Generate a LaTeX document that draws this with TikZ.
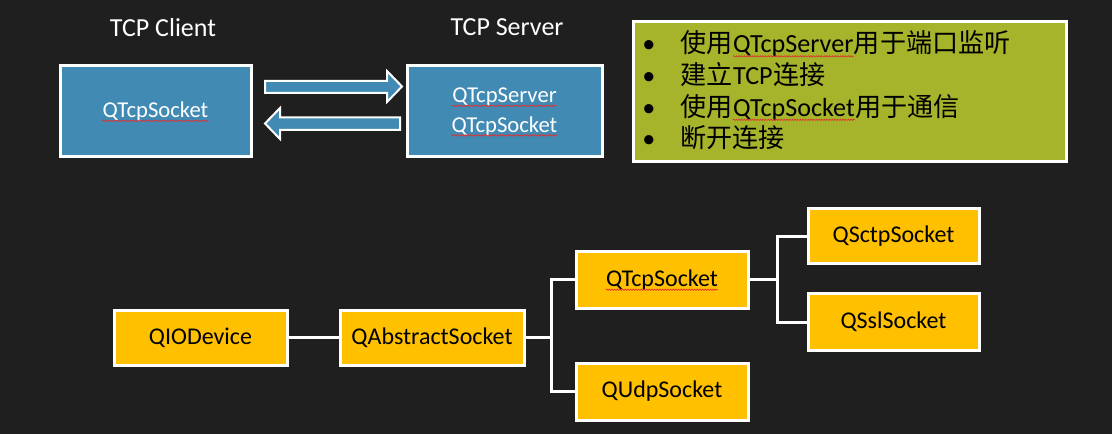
\documentclass[tikz,border=0pt]{standalone}
\usepackage{fontspec}
\setmainfont{Carlito}
\newfontfamily\cjk{Noto Sans CJK SC}
\usetikzlibrary{decorations.pathmorphing}
\definecolor{bgc}{HTML}{1F1F1F}
\definecolor{tblue}{HTML}{418AB3}
\definecolor{tgreen}{HTML}{A5B42A}
\definecolor{tyellow}{HTML}{FFC000}
\definecolor{sqred}{HTML}{E03030}
\tikzset{
  sz/.style 2 args={minimum width=#1*0.75pt, minimum height=#2*0.75pt},
  bluebox/.style={draw=white, line width=2.25pt, fill=tblue, inner sep=0pt},
  bluetxt/.style={inner sep=0pt, text=white, font=\fontsize{17}{22}\selectfont},
  titletxt/.style={inner sep=0pt, text=white, font=\fontsize{19.5}{23}\selectfont},
  greenbox/.style={draw=white, line width=2.25pt, fill=tgreen, inner sep=0pt},
  notetxt/.style={inner sep=0pt, text=black, font=\fontsize{19.6}{23}\selectfont, anchor=base west},
  ybox/.style={draw=white, line width=2.25pt, fill=tyellow, inner sep=0pt, text=black, font=\fontsize{18}{21}\selectfont},
  link/.style={draw=white, line width=2.25pt},
  blockarrow/.style={fill=tblue, draw=white, line width=1.5pt, line join=miter},
  squig/.style={draw=sqred, line width=0.5pt, decorate, decoration={snake, segment length=2pt, amplitude=0.5pt}}
}
\begin{document}
\begin{tikzpicture}[x=0.75pt,y=-0.75pt]
\fill[bgc] (0,0) rectangle (1112,434);
\useasboundingbox (0,0) rectangle (1112,434);

% titles
\node[titletxt] (ctitle) at (163,28) {TCP Client};
\node[titletxt] (stitle) at (507,27) {TCP Server};

% blue boxes
\node[bluebox, sz={191}{91}] (client) at (155.5,111.5) {};
\node[bluetxt] (clientlbl) at (client) {QTcpSocket};
\draw[squig] ([yshift=-2.5pt]clientlbl.base west) -- ([yshift=-2.5pt]clientlbl.base east);

\node[bluebox, sz={195}{91}] (server) at (504.5,111.5) {};
\node[bluetxt] (srvlbl1) at (504.5,97) {QTcpServer};
\node[bluetxt] (srvlbl2) at (504.5,126) {QTcpSocket};
\draw[squig] ([yshift=-2.5pt]srvlbl1.base west) -- ([yshift=-2.5pt]srvlbl1.base east);
\draw[squig] ([yshift=-2.5pt]srvlbl2.base west) -- ([yshift=-2.5pt]srvlbl2.base east);

% block arrows
\draw[blockarrow] (265,81) -- (387,81) -- (387,71) -- (402,86.5) -- (387,102) -- (387,93) -- (265,93) -- cycle;
\draw[blockarrow] (400,117.5) -- (280,117.5) -- (280,108) -- (265,123.5) -- (280,139) -- (280,130) -- (400,130) -- cycle;

% notes box
\node[greenbox, sz={433}{140}] (notes) at (849.5,92) {};
\node[notetxt] (b1) at (642,53) {•};
\node[notetxt] (b2) at (642,84.5) {•};
\node[notetxt] (b3) at (642,116.5) {•};
\node[notetxt] (b4) at (642,148) {•};
\node[notetxt] (l1a) at (680,53) {\cjk 使用};
\node[notetxt] (l1b) at (l1a.base east) {QTcpServer};
\node[notetxt] (l1c) at (l1b.base east) {\cjk 用于端口监听};
\draw[squig] ([yshift=-2.5pt]l1b.base west) -- ([yshift=-2.5pt]l1b.base east);
\node[notetxt] (l2a) at (680,84.5) {\cjk 建立};
\node[notetxt] (l2b) at (l2a.base east) {TCP};
\node[notetxt] (l2c) at (l2b.base east) {\cjk 连接};
\node[notetxt] (l3a) at (680,116.5) {\cjk 使用};
\node[notetxt] (l3b) at (l3a.base east) {QTcpSocket};
\node[notetxt] (l3c) at (l3b.base east) {\cjk 用于通信};
\draw[squig] ([yshift=-2.5pt]l3b.base west) -- ([yshift=-2.5pt]l3b.base east);
\node[notetxt] (l4a) at (680,148) {\cjk 断开连接};

% class tree
\node[ybox, sz={173}{55}] (qio) at (200.5,337.5) {QIODevice};
\node[ybox, sz={184}{55}] (qabs) at (432,337.5) {QAbstractSocket};
\node[ybox, sz={172}{56}] (qtcp) at (662,280) {};
\node[inner sep=0pt, text=black, font=\fontsize{18}{21}\selectfont] (qtcplbl) at (qtcp) {QTcpSocket};
\draw[squig] ([yshift=-2.5pt]qtcplbl.base west) -- ([yshift=-2.5pt]qtcplbl.base east);
\node[ybox, sz={172}{57}] (qudp) at (662,391.5) {QUdpSocket};
\node[ybox, sz={171}{55}] (qsctp) at (893.5,236.5) {QSctpSocket};
\node[ybox, sz={171}{56}] (qssl) at (893.5,322) {QSslSocket};

\coordinate (j1) at (551,337.5);
\coordinate (j2) at (777,280);
\draw[link] (qio) -- (qabs);
\draw[link] (qabs.east) -- (j1);
\draw[link] (j1) |- (qtcp.west);
\draw[link] (j1) |- (qudp.west);
\draw[link] (qtcp.east) -- (j2);
\draw[link] (j2) |- (qsctp.west);
\draw[link] (j2) |- (qssl.west);
\end{tikzpicture}
\end{document}
